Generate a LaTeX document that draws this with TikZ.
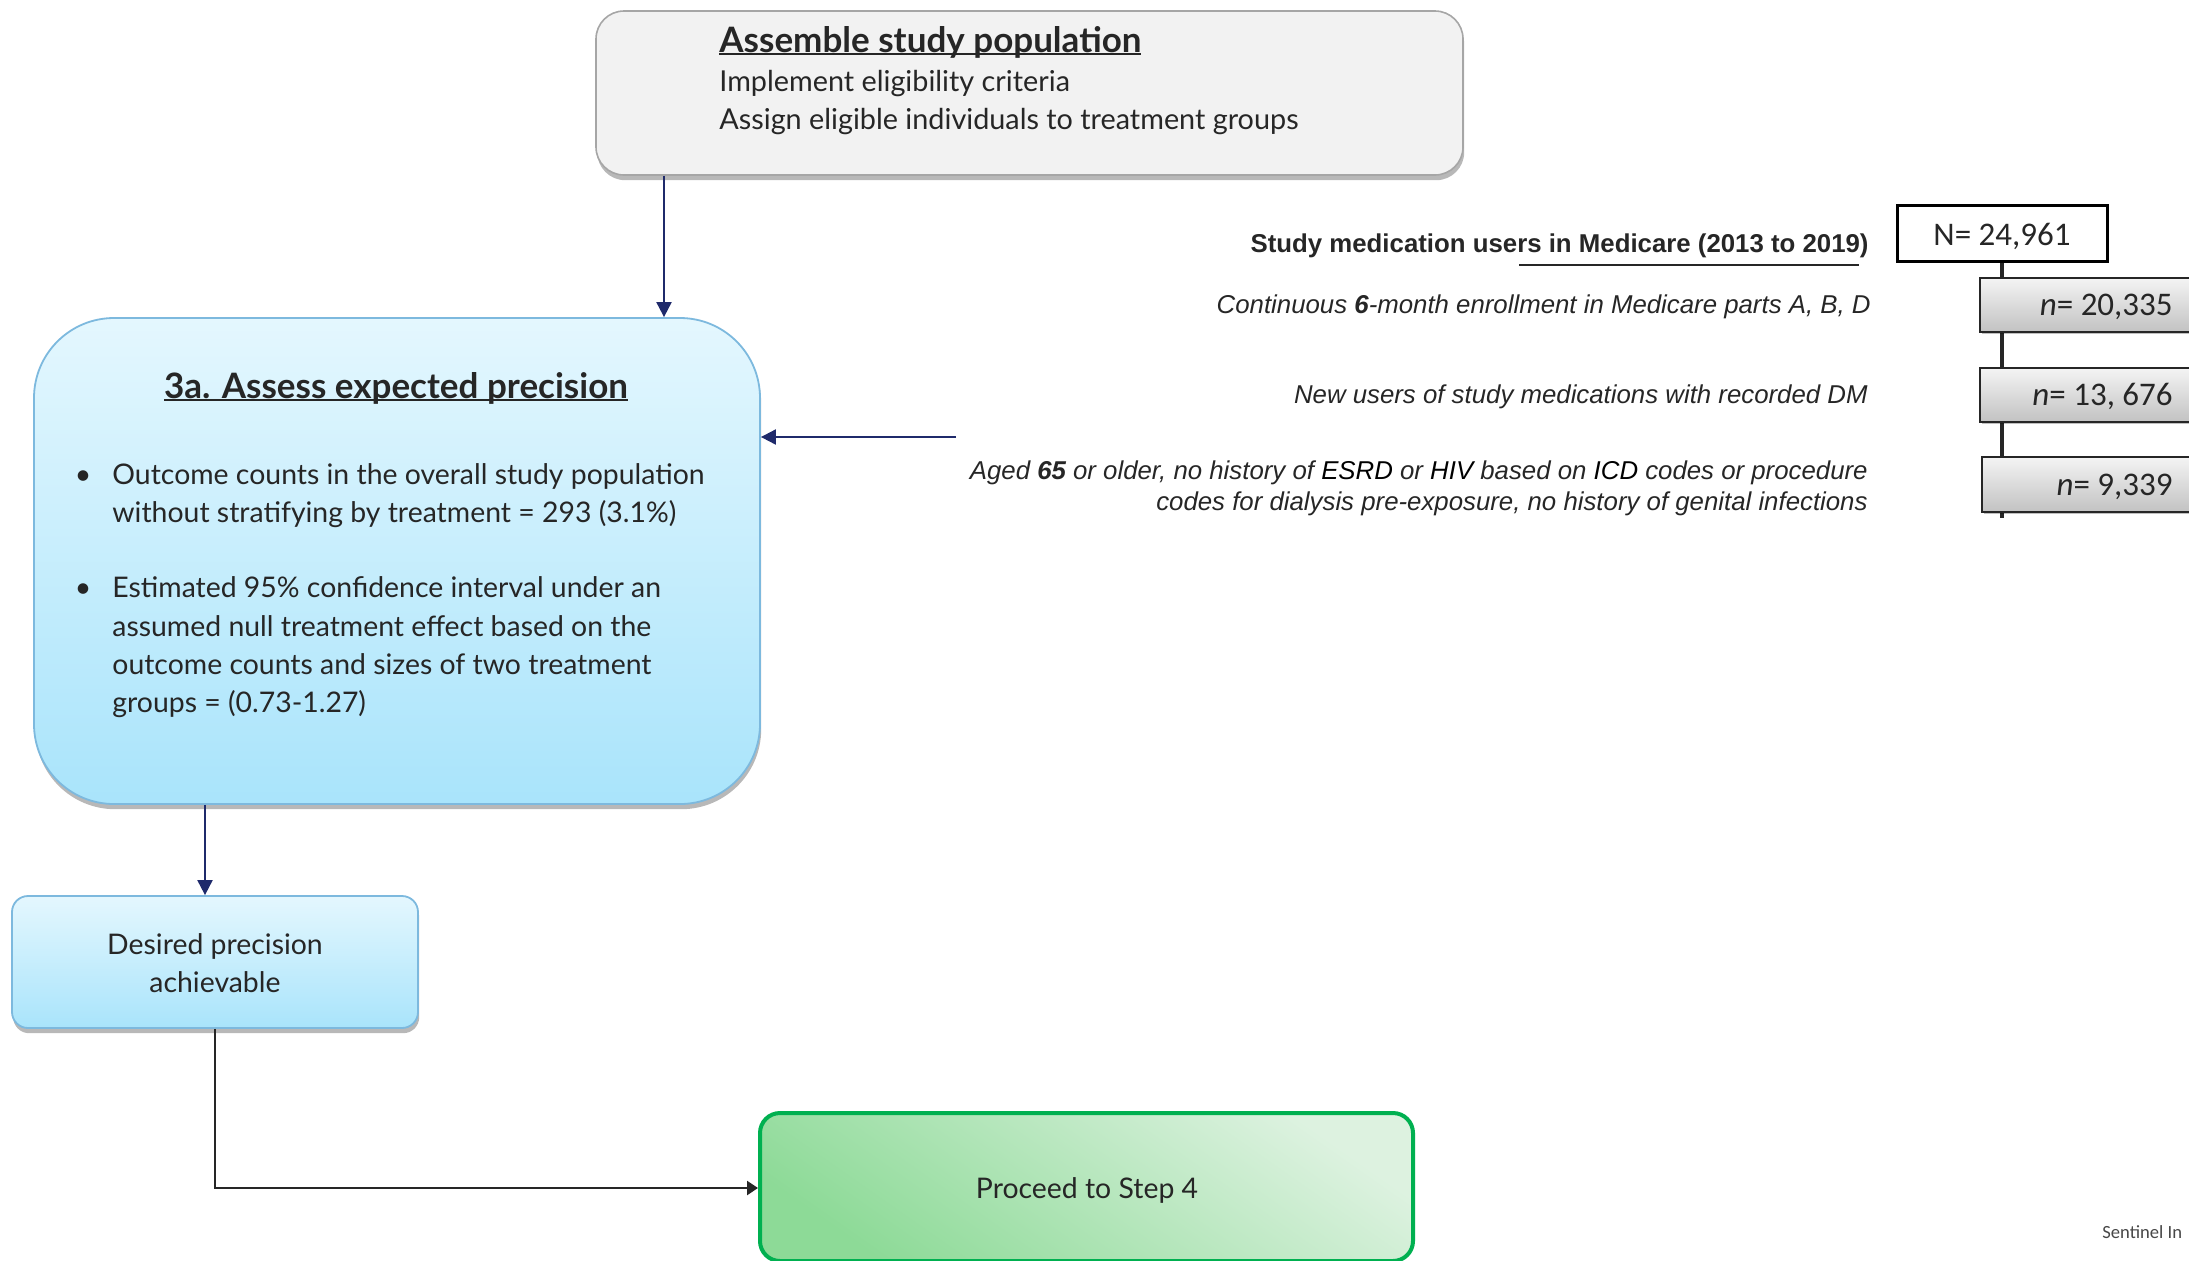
\documentclass[tikz,border=0pt]{standalone}
\usepackage{fontspec}
\setmainfont{Lato}
\newfontfamily\arialf{Liberation Sans}
\newfontfamily\calib{Carlito}
\usetikzlibrary{arrows.meta,fit,shadows,backgrounds}

\definecolor{ink}{HTML}{262626}
\definecolor{navy}{HTML}{1F2A6B}
\definecolor{topfill}{HTML}{F2F2F2}
\definecolor{topedge}{HTML}{A6A6A6}
\definecolor{bluetop}{HTML}{E4F7FE}
\definecolor{bluebot}{HTML}{A9E4FB}
\definecolor{blueedge}{HTML}{7DB9DE}
\definecolor{greenedge}{HTML}{00B050}
\definecolor{greenlight}{HTML}{DDF2E0}
\definecolor{greendark}{HTML}{8DDA97}
\definecolor{greytop}{HTML}{F4F4F4}
\definecolor{greybot}{HTML}{C2C2C2}

% underline that runs just under the baseline, through descenders
\newcommand\baseul[1]{\setbox0\hbox{#1}\rlap{\rule[-1.6pt]{\wd0}{0.9pt}}\box0}

\tikzset{
  softshadow/.style={drop shadow={shadow xshift=0.6pt, shadow yshift=-2.6pt, opacity=0.28, fill=black}},
  graybox/.style={inner sep=0, draw=topedge, line width=0.8pt, fill=topfill, rounded corners=14pt, softshadow},
  bluebox/.style={inner sep=0, draw=blueedge, line width=0.9pt, top color=bluetop, bottom color=bluebot, softshadow},
  greenbox/.style={inner sep=0, draw=greenedge, line width=2pt, rounded corners=10pt,
    top color=greenlight, bottom color=greendark, shading angle=-35},
  countbox/.style={inner sep=0, draw=ink, line width=1pt, top color=greytop, bottom color=greybot,
    drop shadow={shadow xshift=1.2pt, shadow yshift=-1.2pt, opacity=0.25, fill=black}},
  body/.style={font=\fontsize{14.2}{19}\selectfont, text=ink, inner sep=0},
  heading/.style={font=\bfseries\fontsize{17.5}{21}\selectfont, text=ink, inner sep=0},
  crit/.style={font=\arialf\itshape\fontsize{12.9}{15.5}\selectfont, text=ink, inner sep=0, anchor=base east},
  countlabel/.style={font=\calib\fontsize{16.5}{19}\selectfont, text=ink, inner sep=0},
  navyarrow/.style={draw=navy, line width=1pt, -{Triangle[width=7.5pt,length=7.5pt]}},
  darkarrow/.style={draw=ink, line width=1.2pt, -{Triangle[width=7pt,length=5.5pt]}},
}

\begin{document}
\begin{tikzpicture}[x=0.5pt,y=-0.5pt]
\useasboundingbox (0,0) rectangle (2189,1260);

% ---------- step boxes ----------
\node[graybox, fit={(596,11) (1463,175)}] (topbox) {};
\node[heading, anchor=base west] (toptitle) at (719,52) {\baseul{Assemble study population}};
\node[body, font=\fontsize{14.4}{17}\selectfont, anchor=base west] (topl1) at (719,91) {Implement eligibility criteria};
\node[body, font=\fontsize{14.4}{17}\selectfont, anchor=base west] (topl2) at (719,129) {Assign eligible individuals to treatment groups};

\node[bluebox, rounded corners=40pt, fit={(34,318) (760,804)}] (prec) {};
\node[heading, anchor=base] (prectitle) at (396,398) {\baseul{3a. Assess expected precision}};
\node[body, anchor=base] (dot1) at (83,484) {\textbullet};
\node[body, anchor=base west] (b1a) at (112,484) {Outcome counts in the overall study population};
\node[body, anchor=base west] (b1b) at (112,522) {without stratifying by treatment = 293 (3.1\%)};
\node[body, anchor=base] (dot2) at (83,597) {\textbullet};
\node[body, anchor=base west] (b2a) at (112,597) {Estimated 95\% confidence interval under an};
\node[body, anchor=base west] (b2b) at (112,636) {assumed null treatment effect based on the};
\node[body, anchor=base west] (b2c) at (112,674) {outcome counts and sizes of two treatment};
\node[body, anchor=base west] (b2d) at (112,712) {groups = (0.73-1.27)};

\node[bluebox, rounded corners=8pt, fit={(12,896) (418,1028)}] (desired) {};
\node[body, anchor=base] (desl1) at (215,954) {Desired precision};
\node[body, anchor=base] (desl2) at (215,992) {achievable};

\node[greenbox, fit={(760,1113) (1413,1261)}] (step4) {};
\node[body, anchor=base] (step4txt) at (1087,1198) {Proceed to Step 4};

% ---------- connectors ----------
\coordinate (downx) at (664,0);
\draw[navyarrow] (downx |- topbox.south) -- (downx |- prec.north);
\coordinate (sidein) at (956,437);
\draw[navyarrow] (sidein) -- (sidein -| prec.east);
\coordinate (precx) at (205,0);
\draw[navyarrow] (precx |- prec.south) -- (precx |- desired.north);
\coordinate (turn) at (215,1188);
\draw[darkarrow] (desired.south) -- (turn) -- (turn -| step4.west);

% ---------- cohort attrition ----------
\node[inner sep=0, draw=black, line width=1.5pt, fill=white, fit={(1897,205) (2107,261)}] (total) {};
\node[countlabel, anchor=base] (totaltxt) at (2002,245) {N= 24,961};

\node[countbox, fit={(1980,278) (2215,332)}] (cnt1) {};
\node[countlabel, anchor=base east] (cnt1txt) at (2173,315) {{\itshape n}= 20,335};
\node[countbox, fit={(1980,368) (2215,422)}] (cnt2) {};
\node[countlabel, anchor=base east] (cnt2txt) at (2173,405) {{\itshape n}= 13, 676};
\node[countbox, fit={(1982,457) (2215,512)}] (cnt3) {};
\node[countlabel, anchor=base east] (cnt3txt) at (2173,495) {{\itshape n}= 9,339};

\coordinate (flowend) at (2002,518);
\begin{pgfonlayer}{background}
  \draw[ink, line width=2pt] (total.south) -- (flowend);
\end{pgfonlayer}

\node[crit, font=\arialf\bfseries\fontsize{12.9}{15.5}\selectfont] (cohort) at (1869,252) {Study medication users in Medicare (2013 to 2019)};
\coordinate (ulstart) at (1519,265);
\coordinate (ulend) at (1859,265);
\draw[ink, line width=0.8pt] (ulstart) -- (ulend);
\node[crit] (crit1) at (1871,313) {Continuous {\bfseries 6}-month enrollment in Medicare parts A, B, D};
\node[crit] (crit2) at (1868,403) {New users of study medications with recorded DM};
\node[crit] (crit3a) at (1868,479) {Aged {\bfseries 65} or older, no history of {\color{black}ESRD} or {\color{black}HIV} based on {\color{black}ICD} codes or procedure};
\node[crit] (crit3b) at (1868,510) {codes for dialysis pre-exposure, no history of genital infections};

\node[font=\calib\fontsize{9.3}{11}\selectfont, text=black!72, inner sep=0, anchor=base west] (sentinel) at (2102,1238) {Sentinel In};
\end{tikzpicture}
\end{document}
